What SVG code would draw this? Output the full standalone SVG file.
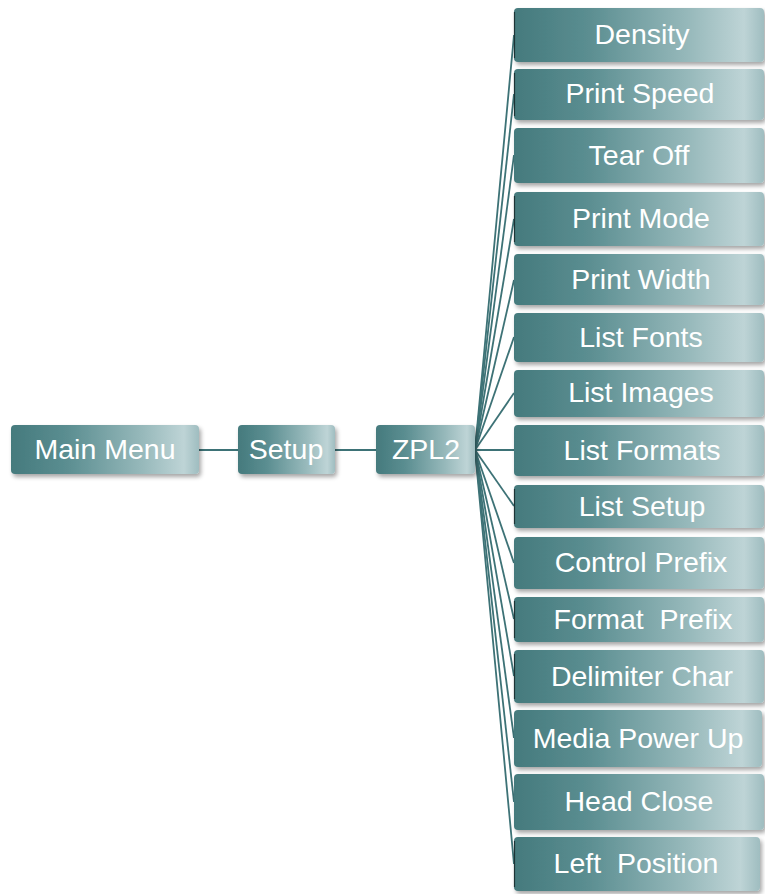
<svg xmlns="http://www.w3.org/2000/svg" width="765" height="894" viewBox="0 0 765 894">
<defs>
<linearGradient id="g" x1="0" y1="0" x2="1" y2="0">
<stop offset="0" stop-color="#457a7d"/>
<stop offset="0.3" stop-color="#5b8e91"/>
<stop offset="0.7" stop-color="#97b9bb"/>
<stop offset="0.92" stop-color="#bed4d6"/>
<stop offset="1" stop-color="#9fbdc0"/>
</linearGradient>
<filter id="sh" x="-10%" y="-20%" width="120%" height="160%">
<feDropShadow dx="2" dy="3" stdDeviation="2" flood-color="#000" flood-opacity="0.35"/>
</filter>
</defs>
<style>
.box{fill:url(#g);filter:url(#sh)}
.t{font-family:"Liberation Sans",Arial,sans-serif;font-size:28.5px;fill:#ffffff;text-anchor:middle;white-space:pre}
.c{stroke:#3d7276;stroke-width:1.8;fill:none}
.le{stroke:#1d3436;stroke-width:1.2}
</style>
<g id="connectors">
<line class="c" x1="199" y1="450" x2="238" y2="450"/>
<line class="c" x1="335" y1="450" x2="376" y2="450"/>
<line class="c" x1="475" y1="450" x2="514" y2="35"/>
<line class="c" x1="475" y1="450" x2="514" y2="94"/>
<line class="c" x1="475" y1="450" x2="514" y2="155"/>
<line class="c" x1="475" y1="450" x2="514" y2="219"/>
<line class="c" x1="475" y1="450" x2="514" y2="280"/>
<line class="c" x1="475" y1="450" x2="514" y2="337"/>
<line class="c" x1="475" y1="450" x2="514" y2="393"/>
<line class="c" x1="475" y1="450" x2="514" y2="450"/>
<line class="c" x1="475" y1="450" x2="514" y2="506"/>
<line class="c" x1="475" y1="450" x2="514" y2="563"/>
<line class="c" x1="475" y1="450" x2="514" y2="619"/>
<line class="c" x1="475" y1="450" x2="514" y2="676"/>
<line class="c" x1="475" y1="450" x2="514" y2="738"/>
<line class="c" x1="475" y1="450" x2="514" y2="802"/>
<line class="c" x1="475" y1="450" x2="514" y2="864"/>
</g>
<g id="main-menu"><rect class="box" x="11" y="425" width="188" height="49" rx="4"/><text class="t" x="105" y="459">Main Menu</text></g>
<g id="setup"><rect class="box" x="238" y="425" width="97" height="49" rx="4"/><text class="t" x="286" y="459">Setup</text></g>
<g id="zpl2"><rect class="box" x="376" y="425" width="99" height="49" rx="4"/><text class="t" x="426" y="459">ZPL2</text></g>
<g id="density"><rect class="box" x="514" y="8" width="250" height="54" rx="4"/><line class="le" x1="514.5" y1="12" x2="514.5" y2="58"/><text class="t" x="642" y="44">Density</text></g>
<g id="print-speed"><rect class="box" x="514" y="69" width="250" height="51" rx="4"/><line class="le" x1="514.5" y1="73" x2="514.5" y2="116"/><text class="t" x="640" y="103">Print Speed</text></g>
<g id="tear-off"><rect class="box" x="514" y="128" width="250" height="55" rx="4"/><text class="t" x="639" y="165">Tear Off</text></g>
<g id="print-mode"><rect class="box" x="514" y="192" width="250" height="54" rx="4"/><line class="le" x1="514.5" y1="196" x2="514.5" y2="242"/><text class="t" x="641" y="228">Print Mode</text></g>
<g id="print-width"><rect class="box" x="514" y="254" width="250" height="51" rx="4"/><text class="t" x="641" y="289">Print Width</text></g>
<g id="list-fonts"><rect class="box" x="514" y="313" width="250" height="49" rx="4"/><text class="t" x="641" y="347">List Fonts</text></g>
<g id="list-images"><rect class="box" x="514" y="370" width="250" height="47" rx="4"/><text class="t" x="641" y="402">List Images</text></g>
<g id="list-formats"><rect class="box" x="514" y="425" width="250" height="51" rx="4"/><text class="t" x="642" y="460">List Formats</text></g>
<g id="list-setup"><rect class="box" x="514" y="485" width="250" height="43" rx="4"/><line class="le" x1="514.5" y1="489" x2="514.5" y2="524"/><text class="t" x="642" y="516">List Setup</text></g>
<g id="control-prefix"><rect class="box" x="514" y="537" width="250" height="52" rx="4"/><text class="t" x="641" y="572">Control Prefix</text></g>
<g id="format-prefix"><rect class="box" x="514" y="597" width="250" height="45" rx="4"/><line class="le" x1="514.5" y1="601" x2="514.5" y2="638"/><text class="t" x="643" y="629">Format  Prefix</text></g>
<g id="delimiter-char"><rect class="box" x="514" y="650" width="250" height="53" rx="4"/><line class="le" x1="514.5" y1="654" x2="514.5" y2="699"/><text class="t" x="642" y="686">Delimiter Char</text></g>
<g id="media-power-up"><rect class="box" x="514" y="710" width="248" height="57" rx="4"/><text class="t" x="638" y="748">Media Power Up</text></g>
<g id="head-close"><rect class="box" x="514" y="774" width="250" height="56" rx="4"/><text class="t" x="639" y="811">Head Close</text></g>
<g id="left-position"><rect class="box" x="514" y="837" width="246" height="54" rx="4"/><line class="le" x1="514.5" y1="841" x2="514.5" y2="887"/><text class="t" x="636" y="873">Left  Position</text></g>
</svg>
